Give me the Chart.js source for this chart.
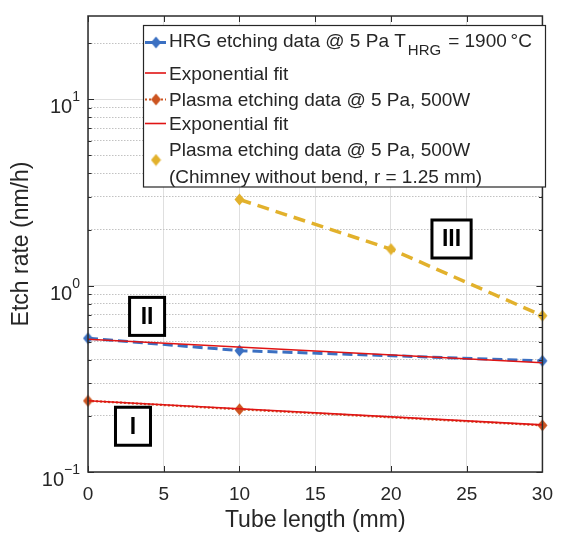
<!DOCTYPE html>
<html>
<head>
<meta charset="utf-8">
<script src="https://cdn.jsdelivr.net/npm/chart.js@4.4.1/dist/chart.umd.min.js"></script>
<style>
  html, body { margin: 0; padding: 0; background: #ffffff; }
  #wrap { position: relative; width: 564px; height: 535px; }
</style>
</head>
<body>
<div id="wrap"><canvas id="c" width="564" height="535"></canvas></div>
<script>
// ---------------- data ----------------
const hrgX = [0, 10, 30];
const hrgY = [0.522, 0.448, 0.395];
const fitHrgX = [0, 30];
const fitHrgY = [0.516, 0.386];
const plasmaX = [0, 10, 30];
const plasmaY = [0.241, 0.217, 0.178];
const fitPlasmaX = [0, 30];
const fitPlasmaY = [0.241, 0.179];
const chimneyX = [10, 20, 30];
const chimneyY = [2.9, 1.57, 0.69];

const xTicks = [0, 5, 10, 15, 20, 25, 30];
const yTicks = [0.1,0.2,0.3,0.4,0.5,0.6,0.7,0.8,0.9,1,2,3,4,5,6,7,8,9,10,20];
const yLabelDecades = [-1, 0, 1];

const legendLabels = [
  'HRG etching data @ 5 Pa T',
  'Exponential fit',
  'Plasma etching data @ 5 Pa, 500W',
  'Exponential fit',
  'Plasma etching data @ 5 Pa, 500W',
  '(Chimney without bend, r = 1.25 mm)'
];
const regionLabels = ['I', 'II', 'III'];
const regionX = [2.97, 3.9, 24.0];
const regionY = [0.176, 0.684, 1.78];

// ---------------- styles ----------------
const FONT = '"Liberation Sans", Arial, Helvetica, sans-serif';
const TXT = '#262626';
const BLUE = '#3b70c2';
const ORANGE = '#cc5420';
const YELLOW = '#e2b12c';
const RED = '#e01414';

function diamond(color) {
  const c = document.createElement('canvas');
  c.width = 11; c.height = 13;
  const g = c.getContext('2d');
  g.fillStyle = color;
  g.beginPath();
  g.moveTo(5.5, 0.5); g.lineTo(10.5, 6.5); g.lineTo(5.5, 12.5); g.lineTo(0.5, 6.5);
  g.closePath(); g.fill();
  return c;
}
const dBlue = diamond(BLUE), dOrange = diamond(ORANGE), dYellow = diamond(YELLOW);

const pts = (xs, ys) => xs.map((x, i) => ({x: x, y: ys[i]}));
const isDecade = v => Math.abs(Math.log10(v) - Math.round(Math.log10(v))) < 1e-9;

const decor = {
  id: 'decor',
  afterDraw(chart) {
    const ctx = chart.ctx;
    const a = chart.chartArea;
    const xs = chart.scales.x, ys = chart.scales.y;
    ctx.save();
    // axes box
    ctx.strokeStyle = '#2b2b2b';
    ctx.lineWidth = 1.5;
    ctx.strokeRect(a.left, a.top, a.right - a.left, a.bottom - a.top);
    // inward ticks
    ctx.lineWidth = 1;
    ctx.beginPath();
    xTicks.forEach(v => {
      const px = Math.round(xs.getPixelForValue(v)) + 0.5;
      ctx.moveTo(px, a.bottom); ctx.lineTo(px, a.bottom - 6);
      ctx.moveTo(px, a.top); ctx.lineTo(px, a.top + 6);
    });
    yTicks.forEach(v => {
      const py = Math.round(ys.getPixelForValue(v)) + 0.5;
      const len = isDecade(v) ? 6 : 3.5;
      ctx.moveTo(a.left, py); ctx.lineTo(a.left + len, py);
      ctx.moveTo(a.right, py); ctx.lineTo(a.right - len, py);
    });
    ctx.stroke();

    // y tick labels 10^n
    ctx.fillStyle = TXT;
    ctx.textBaseline = 'alphabetic';
    yLabelDecades.forEach(n => {
      const py = ys.getPixelForValue(Math.pow(10, n));
      const exp = String(n).replace('-', '\u2212');
      ctx.font = '14px ' + FONT;
      const ew = ctx.measureText(exp).width;
      const right = 80;
      ctx.textAlign = 'left';
      ctx.fillText(exp, right - ew, py + 2);
      ctx.font = '20px ' + FONT;
      ctx.textAlign = 'right';
      ctx.fillText('10', right - ew, py + 14);
    });

    // region label boxes
    ctx.font = 'bold 23px ' + FONT;
    ctx.textAlign = 'center';
    ctx.textBaseline = 'middle';
    regionLabels.forEach((t, i) => {
      const cx = xs.getPixelForValue(regionX[i]);
      const cy = ys.getPixelForValue(regionY[i]);
      const w = Math.max(ctx.measureText(t).width + 20, 35);
      const h = 38;
      ctx.fillStyle = '#ffffff';
      ctx.fillRect(cx - w / 2, cy - h / 2, w, h);
      ctx.lineWidth = 3;
      ctx.strokeStyle = '#000000';
      ctx.strokeRect(cx - w / 2, cy - h / 2, w, h);
      ctx.fillStyle = '#000000';
      ctx.fillText(t, cx, cy + 1);
    });

    // legend
    const L = 143.5, T = 25.5, R = 545.5, B = 187;
    ctx.fillStyle = '#ffffff';
    ctx.fillRect(L, T, R - L, B - T);
    ctx.lineWidth = 1.2;
    ctx.strokeStyle = '#262626';
    ctx.strokeRect(L, T, R - L, B - T);
    const base = [47, 80, 106, 130, 156, 182.5];
    const tx = 169;
    ctx.textAlign = 'left';
    ctx.textBaseline = 'alphabetic';
    ctx.fillStyle = TXT;
    ctx.font = '19px ' + FONT;
    legendLabels.forEach((t, i) => ctx.fillText(t, tx, base[i]));
    // subscript and rest of first row
    let w0 = ctx.measureText(legendLabels[0]).width;
    ctx.font = '15px ' + FONT;
    ctx.fillText('HRG', tx + w0 + 2, base[0] + 8);
    const ws = ctx.measureText('HRG').width;
    ctx.font = '19px ' + FONT;
    ctx.fillText('= 1900\u2009\u00B0C', tx + w0 + ws + 9, base[0]);

    // legend symbols
    const lx0 = 145, lx1 = 166, mx = 156;
    // blue
    ctx.strokeStyle = BLUE; ctx.lineWidth = 3; ctx.setLineDash([9, 4]);
    ctx.beginPath(); ctx.moveTo(lx0, 42.5); ctx.lineTo(lx1, 42.5); ctx.stroke();
    ctx.drawImage(dBlue, mx - 5.5, 42.5 - 6.5);
    // red fits
    ctx.setLineDash([]);
    ctx.strokeStyle = RED; ctx.lineWidth = 1.6;
    ctx.beginPath(); ctx.moveTo(lx0, 73); ctx.lineTo(lx1, 73); ctx.stroke();
    ctx.beginPath(); ctx.moveTo(lx0, 123.5); ctx.lineTo(lx1, 123.5); ctx.stroke();
    // orange dotted
    ctx.strokeStyle = ORANGE; ctx.lineWidth = 2; ctx.setLineDash([2, 2]);
    ctx.beginPath(); ctx.moveTo(lx0, 99.5); ctx.lineTo(lx1, 99.5); ctx.stroke();
    ctx.setLineDash([]);
    ctx.drawImage(dOrange, mx - 5.5, 99.5 - 6.5);
    // yellow marker
    ctx.drawImage(dYellow, mx - 5.5, 160 - 6.5);
    ctx.restore();
  }
};

new Chart(document.getElementById('c'), {
  type: 'line',
  data: {
    datasets: [
      { label: 'HRG etching data', data: pts(hrgX, hrgY), order: 5,
        borderColor: BLUE, backgroundColor: BLUE, borderWidth: 3, borderDash: [10, 5],
        pointStyle: dBlue, pointRadius: 6, clip: false },
      { label: 'Exponential fit', data: pts(fitHrgX, fitHrgY), order: 4,
        borderColor: RED, borderWidth: 1.6, pointRadius: 0, clip: false },
      { label: 'Plasma etching data', data: pts(plasmaX, plasmaY), order: 3,
        borderColor: ORANGE, backgroundColor: ORANGE, borderWidth: 2.2, borderDash: [2, 2],
        pointStyle: dOrange, pointRadius: 6, clip: false },
      { label: 'Exponential fit', data: pts(fitPlasmaX, fitPlasmaY), order: 2,
        borderColor: RED, borderWidth: 1.6, pointRadius: 0, clip: false },
      { label: 'Plasma etching data (chimney)', data: pts(chimneyX, chimneyY), order: 1,
        borderColor: YELLOW, backgroundColor: YELLOW, borderWidth: 3.5, borderDash: [12, 7],
        pointStyle: dYellow, pointRadius: 6, clip: false }
    ]
  },
  options: {
    responsive: false,
    animation: false,
    devicePixelRatio: 1,
    layout: { padding: { top: 16, right: 18, left: 0, bottom: 0 } },
    plugins: { legend: { display: false }, tooltip: { enabled: false } },
    elements: { line: { tension: 0 } },
    scales: {
      x: {
        type: 'linear', min: 0, max: 30,
        afterBuildTicks: s => { s.ticks = xTicks.map(v => ({value: v})); },
        afterFit: s => { s.height = 63; },
        ticks: { padding: 11, color: TXT, font: { family: FONT, size: 19 } },
        grid: { color: '#dfdfdf', lineWidth: 1, drawTicks: false },
        border: { display: false },
        title: { display: true, text: 'Tube length (mm)', color: TXT,
                 font: { family: FONT, size: 23 }, padding: { top: 0, bottom: 1 } }
      },
      y: {
        type: 'logarithmic', min: 0.1, max: 28,
        afterBuildTicks: s => { s.ticks = yTicks.map(v => ({value: v})); },
        afterFit: s => { s.width = 88; },
        ticks: { display: false },
        grid: {
          color: c => (c.tick && isDecade(c.tick.value)) ? '#dfdfdf' : '#c2c2c2',
          lineWidth: 1, drawTicks: false
        },
        border: { display: false, dash: c => (c.tick && isDecade(c.tick.value)) ? [] : [1.5, 1.5] },
        title: { display: true, text: 'Etch rate (nm/h)', color: TXT,
                 font: { family: FONT, size: 23 }, padding: { top: 8, bottom: 0 } }
      }
    }
  },
  plugins: [decor]
});
</script>
</body>
</html>
